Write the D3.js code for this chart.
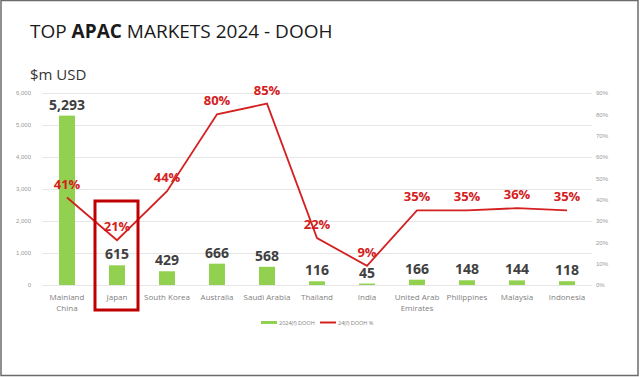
<!DOCTYPE html>
<html lang="en">
<head>
    <meta charset="UTF-8">
    <title>Top APAC markets 2024 - DOOH</title>
    <script src="https://d3js.org/d3.v7.min.js"></script>
    <style>
        body { margin: 0; background: #fff; }
        svg { font-family: 'Open Sans', sans-serif; display: block; }
        .tick text { fill: #9a9a9a; font-size: 6px; }
        .tick line { stroke: #e6e6e6; }
        .domain { display: none; }
    </style>
</head>
<body>
<svg width="640" height="377"></svg>
<script>
    const markets = ["Mainland China", "Japan", "South Korea", "Australia", "Saudi Arabia",
        "Thailand", "India", "United Arab Emirates", "Philippines", "Malaysia", "Indonesia"];
    const spend = [5293, 615, 429, 666, 568, 116, 45, 166, 148, 144, 118];
    const share = [41, 21, 44, 80, 85, 22, 9, 35, 35, 36, 35];
    const leftTicks = [0, 1000, 2000, 3000, 4000, 5000, 6000];
    const rightTicks = [0, 10, 20, 30, 40, 50, 60, 70, 80, 90];
    const legendLabels = ["2024(f) DOOH", "24(f) DOOH %"];

    const svg = d3.select("svg");
    const green = "#92d050", red = "#d42020";

    // frame
    svg.append("rect").attr("x", 1).attr("y", 0.5).attr("width", 637).attr("height", 375)
        .attr("fill", "none").attr("stroke", "#6b6b6b").attr("stroke-width", 1.5);

    // title
    const title = svg.append("text").attr("x", 30).attr("y", 38)
        .attr("font-size", 19).attr("fill", "#1a1a1a").attr("font-family", "Open Sans");
    title.append("tspan").text("TOP ");
    title.append("tspan").attr("font-weight", "bold").text("APAC");
    title.append("tspan").text(" MARKETS 2024 - DOOH");

    svg.append("text").attr("x", 30).attr("y", 80).attr("font-size", 15)
        .attr("fill", "#333").text("$m USD");

    const x = d3.scaleBand().domain(markets).range([42, 592]).paddingInner(0.68).paddingOuter(0.34);
    const y = d3.scaleLinear().domain([0, 6000]).range([285, 93]);
    const y2 = d3.scaleLinear().domain([0, 90]).range([285, 93]);

    svg.append("g").attr("transform", "translate(42,0)")
        .call(d3.axisLeft(y).tickValues(leftTicks).tickSize(-550).tickPadding(11)
            .tickFormat(d3.format(",")));
    svg.append("g").attr("transform", "translate(592,0)")
        .call(d3.axisRight(y2).tickValues(rightTicks).tickSize(0).tickPadding(4)
            .tickFormat(d => d + "%"));

    // bars
    svg.selectAll("rect.bar").data(spend).enter().append("rect").attr("class", "bar")
        .attr("x", (d, i) => x(markets[i])).attr("width", x.bandwidth())
        .attr("y", d => y(d)).attr("height", d => y(0) - y(d)).attr("fill", green);

    svg.selectAll("text.val").data(spend).enter().append("text").attr("class", "val")
        .attr("x", (d, i) => x(markets[i]) + x.bandwidth() / 2).attr("y", d => y(d) - 6)
        .attr("text-anchor", "middle").attr("font-size", 14).attr("font-weight", "bold")
        .attr("fill", "#404040").text(d3.format(","));

    // category labels
    const cx = m => x(m) + x.bandwidth() / 2;
    const catLines = { "Mainland China": ["Mainland", "China"], "United Arab Emirates": ["United Arab", "Emirates"] };
    markets.forEach(m => {
        const t = svg.append("text").attr("x", cx(m)).attr("y", 300).attr("text-anchor", "middle")
            .attr("font-size", 8).attr("fill", "#7f7f7f");
        (catLines[m] || [m]).forEach((s, k) => t.append("tspan").attr("x", cx(m)).attr("dy", k ? 11 : 0).text(s));
    });

    // share line
    const line = d3.line().x((d, i) => cx(markets[i])).y(d => y2(d));
    svg.append("path").datum(share).attr("d", line).attr("fill", "none")
        .attr("stroke", red).attr("stroke-width", 1.8);

    svg.selectAll("text.pct").data(share).enter().append("text").attr("class", "pct")
        .attr("x", (d, i) => cx(markets[i])).attr("y", d => y2(d) - 9)
        .attr("text-anchor", "middle").attr("font-size", 13).attr("font-weight", "bold")
        .attr("fill", red).text(d => d + "%");

    // highlight box round Japan
    svg.append("rect").attr("x", cx("Japan") - 22).attr("y", 201).attr("width", 43).attr("height", 109)
        .attr("fill", "none").attr("stroke", "#c00000").attr("stroke-width", 3);

    // legend
    const lg = svg.append("g").attr("font-size", 5.5).attr("fill", "#7f7f7f");
    lg.append("rect").attr("x", 261).attr("y", 321).attr("width", 16).attr("height", 3).attr("fill", green);
    lg.append("text").attr("x", 279).attr("y", 325).text(legendLabels[0]);
    lg.append("line").attr("x1", 320).attr("x2", 336).attr("y1", 322.5).attr("y2", 322.5)
        .attr("stroke", red).attr("stroke-width", 2);
    lg.append("text").attr("x", 338).attr("y", 325).text(legendLabels[1]);
</script>
</body>
</html>
